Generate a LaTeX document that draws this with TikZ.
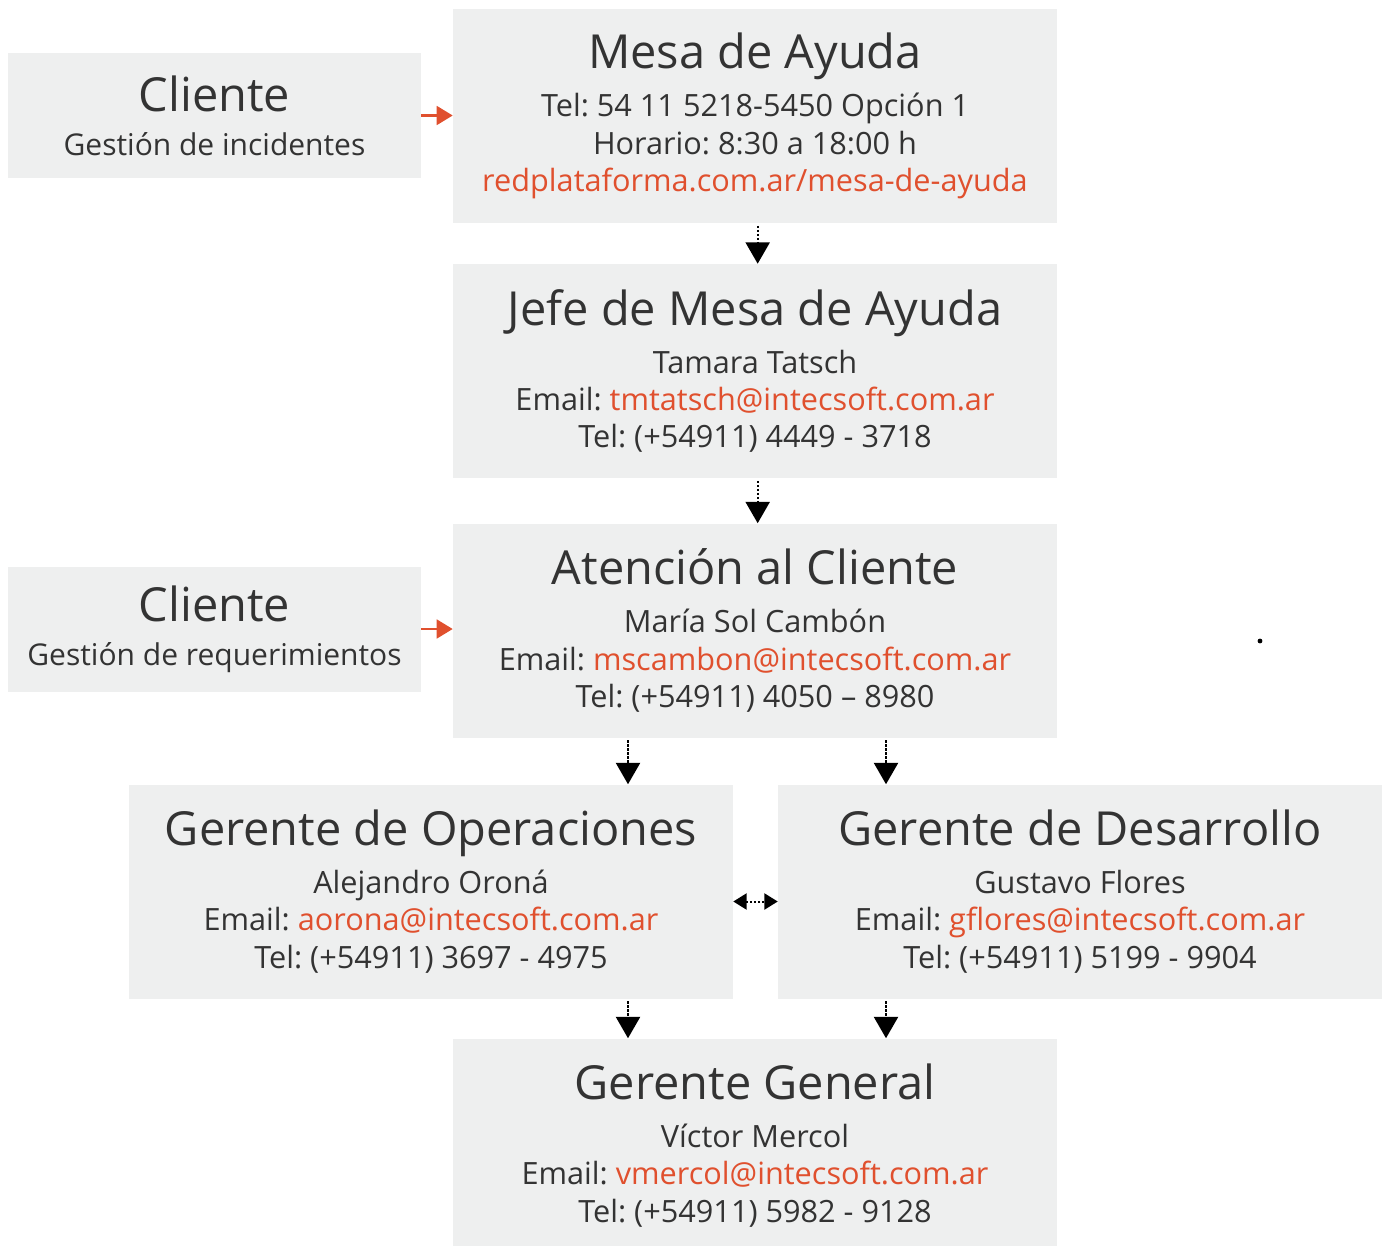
\documentclass[tikz,border=0pt]{standalone}
\usepackage{fontspec}
\setmainfont{Open Sans}
\usetikzlibrary{arrows.meta}
\definecolor{boxgray}{HTML}{EEEFEF}
\definecolor{txtgray}{HTML}{333333}
\definecolor{linkred}{HTML}{E0502E}
\newcommand{\titlef}{\fontsize{35.2}{43}\selectfont}
\newcommand{\bodyf}{\fontsize{23}{28}\selectfont}
\newcommand{\lnk}[1]{\textcolor{linkred}{#1}}
\frenchspacing
\tikzset{
  infobox/.style={fill=boxgray, text=txtgray, align=center, inner sep=0pt,
    minimum width=453pt, minimum height=160.5pt, font=\bodyf},
  clibox/.style={infobox, minimum width=309.75pt, minimum height=93.75pt,
    font=\fontsize{22.5}{28}\selectfont},
  flow/.style={line width=1.6pt, dash pattern=on 1.6pt off 1.4pt,
    -{Triangle[width=18pt,length=16pt]}},
  both/.style={line width=1.5pt, dash pattern=on 1.5pt off 1.5pt,
    {Triangle[width=12pt,length=10pt]}-{Triangle[width=12pt,length=10pt]}},
  feed/.style={line width=2pt, linkred, -{Triangle[width=14pt,length=12pt]}}
}
\begin{document}
\begin{tikzpicture}[x=0.75pt, y=-0.75pt]
  \useasboundingbox (0,0) rectangle (1387,1245);

  % Entry points
  \node[clibox] (cli1) at (214.5,115.5)
    {{\titlef Cliente}\\[5pt] Gestión de incidentes};
  \node[clibox] (cli2) at (214.5,629)
    {{\titlef Cliente}\\[5pt] Gestión de requerimientos};

  % Escalation chain
  \node[infobox] (mesa) at (755,116)
    {{\titlef Mesa de Ayuda}\\[8pt] Tel: 54 11 5218-5450 Opción 1\\
     Horario: 8:30 a 18:00 h\\ \lnk{redplataforma.com.ar/mesa-de-ayuda}};
  \node[infobox] (jefe) at (755,371)
    {{\titlef Jefe de Mesa de Ayuda}\\[8pt] Tamara Tatsch\\
     Email: \lnk{tmtatsch@intecsoft.com.ar}\\ Tel: (+54911) 4449 - 3718};
  \node[infobox] (aten) at (755,630.5)
    {{\titlef Atención al Cliente}\\[8pt] María Sol Cambón\\
     Email: \lnk{mscambon@intecsoft.com.ar}\\ Tel: (+54911) 4050 -- 8980};
  \node[infobox] (gerop) at (431,891.5)
    {{\titlef Gerente de Operaciones}\\[8pt] Alejandro Oroná\\
     Email: \lnk{aorona@intecsoft.com.ar}\\ Tel: (+54911) 3697 - 4975};
  \node[infobox] (gerdes) at (1080,891.5)
    {{\titlef Gerente de Desarrollo}\\[8pt] Gustavo Flores\\
     Email: \lnk{gflores@intecsoft.com.ar}\\ Tel: (+54911) 5199 - 9904};
  \node[infobox] (gergen) at (755,1145.5)
    {{\titlef Gerente General}\\[8pt] Víctor Mercol\\
     Email: \lnk{vmercol@intecsoft.com.ar}\\ Tel: (+54911) 5982 - 9128};

  % Client arrows
  \draw[feed] (cli1.east) -- (cli1.east -| mesa.west);
  \draw[feed] (cli2.east) -- (cli2.east -| aten.west);

  % Dotted escalation arrows
  \draw[flow] ([xshift=2pt,yshift=-2pt]mesa.south) -- ([xshift=2pt]jefe.north);
  \draw[flow] ([xshift=2pt,yshift=-2pt]jefe.south) -- ([xshift=2pt]aten.north);
  \draw[flow] ([xshift=-95.25pt,yshift=-2pt]aten.south) -- ([xshift=-95.25pt]aten.south |- gerop.north);
  \draw[flow] ([xshift=98.25pt,yshift=-2pt]aten.south) -- ([xshift=98.25pt]aten.south |- gerdes.north);
  \draw[flow] ([xshift=-95.25pt,yshift=-2pt]gergen.north |- gerop.south) -- ([xshift=-95.25pt]gergen.north);
  \draw[flow] ([xshift=98.25pt,yshift=-2pt]gergen.north |- gerdes.south) -- ([xshift=98.25pt]gergen.north);
  \draw[both] ([yshift=-7.5pt]gerop.east) -- ([yshift=-7.5pt]gerdes.west);

  % Stray dot
  \fill (1260,641) circle (1.8pt);
\end{tikzpicture}
\end{document}
